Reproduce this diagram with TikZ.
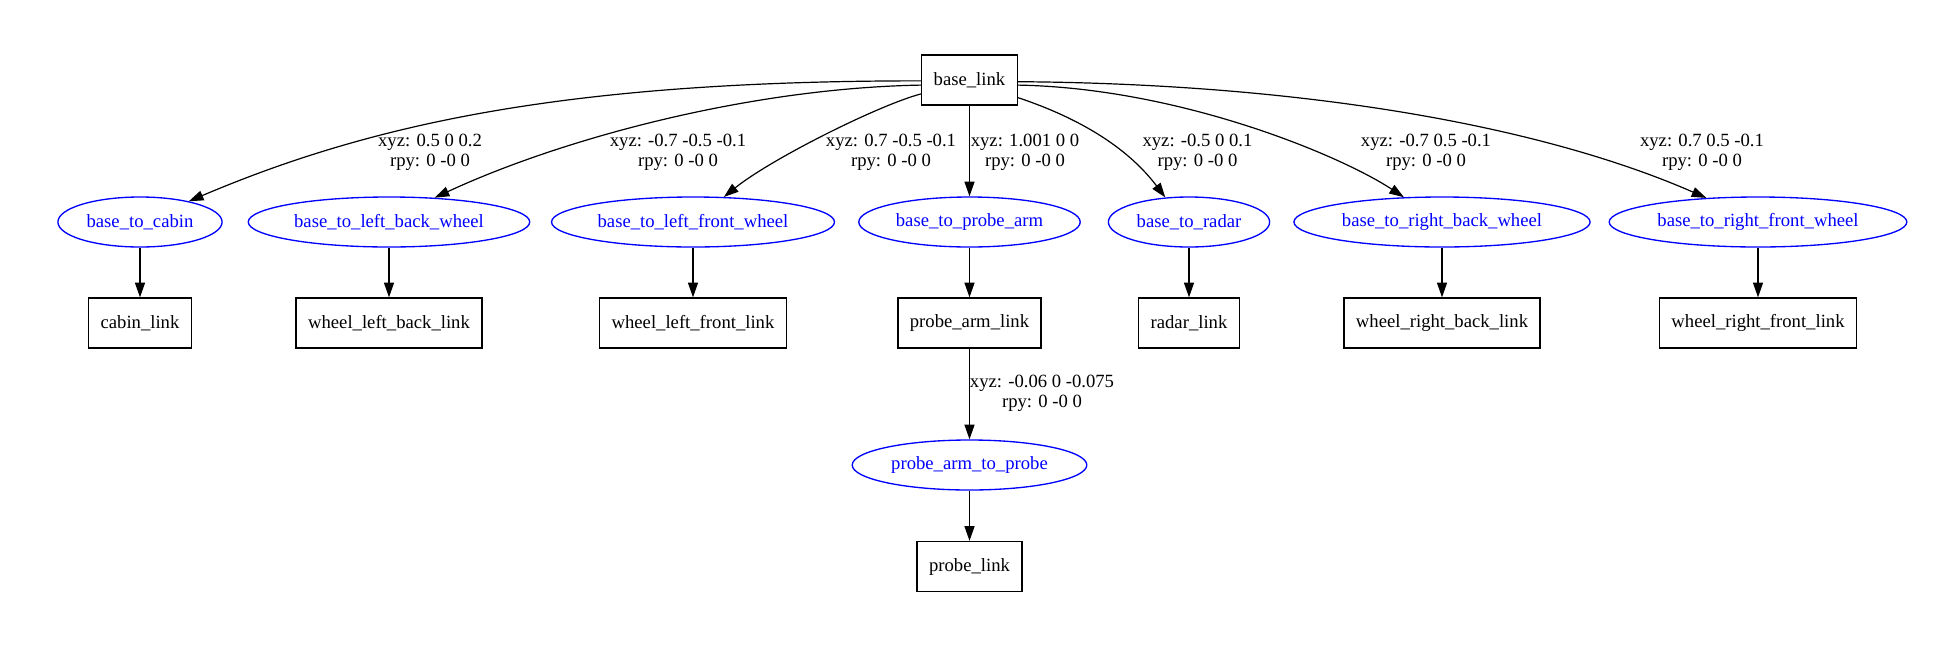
\documentclass[tikz,border=0pt]{standalone}
\usepackage{fontspec}
\setmainfont{Liberation Serif}
\usetikzlibrary{shapes.geometric,arrows.meta}

\begin{document}
\begin{tikzpicture}[x=0.75pt,y=-0.75pt,
		every node/.style={font=\fontsize{14}{15}\selectfont},
		link/.style={draw,rectangle,line width=1pt,minimum height=37.5pt,inner xsep=9pt},
		joint/.style={draw=blue,text=blue,ellipse,line width=1pt,minimum height=37.5pt,inner xsep=3.5pt},
		edge/.style={line width=0.9pt,-{Triangle[length=11pt,width=7.5pt]}},
		lbl/.style={align=center,inner sep=0pt}]
	\useasboundingbox (0,0) rectangle (1959,647);
			\node[link] (base_link) at (969.5,80) {base\_link};
		\node[joint] (base_to_cabin) at (140,222) {base\_to\_cabin};
			\node[link] (cabin_link) at (140,323) {cabin\_link};
		\node[joint] (base_to_left_back_wheel) at (389,222) {base\_to\_left\_back\_wheel};
			\node[link] (wheel_left_back_link) at (389,323) {wheel\_left\_back\_link};
		\node[joint] (base_to_left_front_wheel) at (693,222) {base\_to\_left\_front\_wheel};
			\node[link] (wheel_left_front_link) at (693,323) {wheel\_left\_front\_link};
		\node[joint] (base_to_probe_arm) at (969.5,222) {base\_to\_probe\_arm};
			\node[link] (probe_arm_link) at (969.5,323) {probe\_arm\_link};
		\node[joint] (probe_arm_to_probe) at (969.5,465) {probe\_arm\_to\_probe};
			\node[link] (probe_link) at (969.5,566.5) {probe\_link};
		\node[joint] (base_to_radar) at (1189,222) {base\_to\_radar};
			\node[link] (radar_link) at (1189,323) {radar\_link};
		\node[joint] (base_to_right_back_wheel) at (1442,222) {base\_to\_right\_back\_wheel};
			\node[link] (wheel_right_back_link) at (1442,323) {wheel\_right\_back\_link};
		\node[joint] (base_to_right_front_wheel) at (1758,222) {base\_to\_right\_front\_wheel};
			\node[link] (wheel_right_front_link) at (1758,323) {wheel\_right\_front\_link};

		\node[lbl] (xyz_cabin) at (430,152) {xyz: 0.5 0 0.2\\rpy: 0 -0 0};
		\node[lbl] (xyz_left_back) at (678,152) {xyz: -0.7 -0.5 -0.1\\rpy: 0 -0 0};
		\node[lbl] (xyz_left_front) at (891,152) {xyz: 0.7 -0.5 -0.1\\rpy: 0 -0 0};
		\node[lbl] (xyz_probe_arm) at (1025,152) {xyz: 1.001 0 0\\rpy: 0 -0 0};
		\node[lbl] (xyz_radar) at (1197.5,152) {xyz: -0.5 0 0.1\\rpy: 0 -0 0};
		\node[lbl] (xyz_right_back) at (1426,152) {xyz: -0.7 0.5 -0.1\\rpy: 0 -0 0};
		\node[lbl] (xyz_right_front) at (1702,152) {xyz: 0.7 0.5 -0.1\\rpy: 0 -0 0};
		\node[lbl] (xyz_probe) at (1042,393) {xyz: -0.06 0 -0.075\\rpy: 0 -0 0};

		\draw[edge] (base_link.181) .. controls +(-350,0) and +(186,-79) .. (base_to_cabin.23);
		\draw[edge] (base_link.186) .. controls +(-172,3) and +(127,-59) .. (base_to_left_back_wheel.28);
		\draw[edge] (base_link.196) .. controls +(-42,11) and +(47,-38) .. (base_to_left_front_wheel.39);
		\draw[edge] (base_link) -- (base_to_probe_arm);
		\draw[edge] (base_link.340) .. controls +(63,21) and +(-37,-49) .. (base_to_radar.134);
		\draw[edge] (base_link.354) .. controls +(163,3) and +(-62,-41) .. (base_to_right_back_wheel.147);
		\draw[edge] (base_link.358) .. controls +(283,2) and +(-167,-73) .. (base_to_right_front_wheel.155);
			\draw[edge] (base_to_cabin) -- (cabin_link);
			\draw[edge] (base_to_left_back_wheel) -- (wheel_left_back_link);
			\draw[edge] (base_to_left_front_wheel) -- (wheel_left_front_link);
			\draw[edge] (base_to_probe_arm) -- (probe_arm_link);
			\draw[edge] (probe_arm_link) -- (probe_arm_to_probe);
			\draw[edge] (probe_arm_to_probe) -- (probe_link);
			\draw[edge] (base_to_radar) -- (radar_link);
			\draw[edge] (base_to_right_back_wheel) -- (wheel_right_back_link);
			\draw[edge] (base_to_right_front_wheel) -- (wheel_right_front_link);
\end{tikzpicture}
\end{document}
